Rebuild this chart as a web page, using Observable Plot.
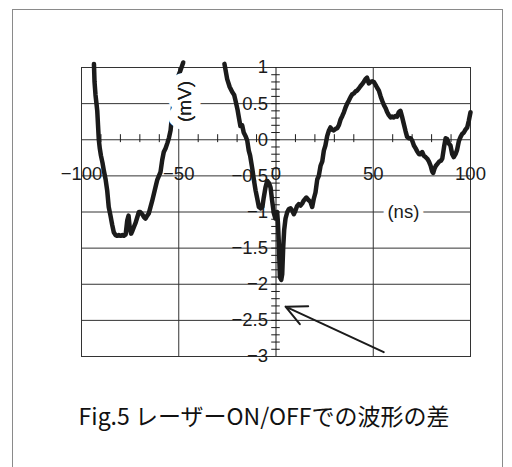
<!DOCTYPE html>
<html>
<head>
<meta charset="utf-8">
<script src="https://cdn.jsdelivr.net/npm/d3@7"></script>
<script src="https://cdn.jsdelivr.net/npm/@observablehq/plot@0.6"></script>
<style>
  body { margin: 0; background: #fff; }
  #wrap { position: relative; width: 512px; height: 467px; overflow: hidden; background: #fff; }
  #border { position: absolute; left: 12px; top: 9px; width: 491px; height: 480px; border: 1px solid #8a8a8a; box-sizing: border-box; }
  #chart { position: absolute; left: 0; top: 0; }
  #caption { position: absolute; left: 264px; top: 402px; transform: translateX(-50%); white-space: nowrap;
             font-family: "Noto Sans CJK JP", "Noto Sans", sans-serif; font-size: 23px; line-height: 26px; color: #111; }
</style>
</head>
<body>
<div id="wrap">
  <div id="border"></div>
  <div id="chart"></div>
  <div id="caption">Fig.5 レーザーON/OFFでの波形の差</div>
</div>
<script>
// ---- axis ticks & labels ----
const xTicks = [-100, -50, 0, 50, 100];
const xTickLabels = ["−100", "−50", "0", "50", "100"];
const yTicks = [1, 0.5, 0, -0.5, -1, -1.5, -2, -2.5, -3];
const yTickLabels = ["1", "0.5", "0", "−0.5", "−1", "−1.5", "−2", "−2.5", "−3"];
const yGrid = [0.5, 0, -0.5, -1, -1.5, -2, -2.5];
const xGrid = [-50, 50];
const xMinor = [-90, -80, -70, -60, -40, -30, -20, -10, 10, 20, 30, 40, 60, 70, 80, 90];
const yMinor = [0.9,0.8,0.7,0.6,0.5,0.4,0.3,0.2,0.1,0,-0.1,-0.2,-0.3,-0.4,-0.5,-0.6,-0.7,-0.8,-0.9,-1,
  -1.1,-1.2,-1.3,-1.4,-1.5,-1.6,-1.7,-1.8,-1.9,-2,-2.1,-2.2,-2.3,-2.4,-2.5,-2.6,-2.7,-2.8,-2.9];
const xAxisLabel = ["(ns)"];
const yAxisLabel = ["(mV)"];

// ---- waveform difference (mV vs ns), two visible pieces ----
const segA_x = [-93.6,-93.3,-92.8,-92.3,-91.9,-91.5,-91.1,-90.6,-90.0,-89.2,-88.5,-87.6,-86.8,-86.0,-85.1,-84.2,-83.4,
  -82.5,-81.6,-80.8,-79.9,-79.0,-78.2,-77.3,-76.5,-75.8,-75.2,-74.5,-73.8,-73.1,-72.2,-71.4,-70.5,-69.8,-68.8,
  -67.9,-67.1,-66.2,-65.4,-64.5,-63.7,-62.8,-62.0,-61.1,-60.2,-59.4,-58.5,-57.7,-56.8,-55.9,-55.0,-54.2,-53.4,
  -52.5,-51.7,-50.8,-50.0,-49.1,-47.7];
const segA_y = [1.05,0.8,0.62,0.5,0.4,0.2,0.0,-0.12,-0.22,-0.32,-0.43,-0.55,-0.7,-0.93,-1.05,-1.18,-1.28,
  -1.32,-1.33,-1.32,-1.33,-1.32,-1.33,-1.31,-1.12,-1.05,-1.22,-1.30,-1.26,-1.21,-1.15,-1.08,-1.0,-1.0,-1.03,
  -1.07,-1.09,-1.05,-1.02,-0.93,-0.85,-0.75,-0.66,-0.56,-0.5,-0.45,-0.28,-0.17,-0.12,-0.05,0.03,0.13,0.35,
  0.55,0.7,0.82,0.9,0.96,1.07];
const segB_x = [-26.5,-25.1,-23.8,-22.5,-21.5,-20.8,-19.8,-19.1,-18.3,-17.4,-16.6,-15.5,-14.8,-14.0,-13.3,-12.2,
  -11.4,-10.5,-9.6,-8.8,-7.8,-7.0,-6.3,-5.4,-4.5,-3.6,-2.8,-2.0,-1.1,-0.3,0.6,1.0,1.4,2.0,2.7,3.2,3.7,4.2,4.9,
  5.8,6.6,7.5,8.3,9.2,10.0,10.8,11.7,12.6,13.5,14.3,15.6,16.9,17.7,18.6,19.4,20.3,21.2,22.0,22.9,23.8,24.6,
  25.4,26.3,27.1,28.0,28.8,29.7,30.6,31.5,32.3,33.2,34.1,34.9,35.8,36.6,37.4,38.3,39.2,40.0,40.9,41.7,42.6,
  43.4,44.3,45.1,46.0,46.8,47.7,48.6,49.5,50.3,51.2,52.0,52.9,53.8,54.6,55.5,56.3,57.2,58.0,58.9,59.7,60.6,
  61.4,62.3,63.1,64.0,64.8,65.7,66.6,67.4,68.3,69.2,70.0,70.9,71.8,72.6,73.5,74.3,75.2,76.0,76.9,77.7,78.6,
  79.5,80.3,80.8,81.5,82.2,83.1,84.0,84.8,85.5,86.4,87.2,88.0,88.8,89.7,90.6,91.4,92.3,93.1,94.0,94.9,95.7,
  96.6,97.4,98.3,99.1,100];
const segB_y = [1.05,0.84,0.73,0.66,0.62,0.54,0.42,0.31,0.19,0.2,0.1,0.04,-0.01,-0.15,-0.22,-0.4,
  -0.55,-0.7,-0.82,-0.93,-0.95,-0.93,-0.8,-0.66,-0.57,-0.6,-0.66,-0.84,-1.02,-1.09,-1.0,-1.15,-1.39,-1.9,-1.94,-1.86,-1.49,-1.25,-1.09,
  -1.0,-0.96,-0.95,-0.98,-1.03,-0.98,-0.92,-0.89,-0.91,-0.88,-0.84,-0.8,-0.84,-0.86,-0.93,-0.82,-0.73,-0.55,-0.5,-0.36,-0.3,-0.15,
  -0.08,0.05,0.12,0.17,0.14,0.13,0.15,0.16,0.2,0.28,0.33,0.38,0.45,0.5,0.54,0.59,0.63,0.64,0.67,0.68,0.71,
  0.74,0.77,0.8,0.84,0.86,0.78,0.8,0.81,0.8,0.76,0.72,0.68,0.6,0.54,0.48,0.44,0.38,0.34,0.31,0.32,0.31,
  0.33,0.32,0.38,0.4,0.32,0.22,0.12,0.04,0.02,0.02,-0.01,-0.08,-0.12,-0.16,-0.2,-0.2,-0.17,-0.22,-0.24,-0.26,-0.3,
  -0.36,-0.44,-0.46,-0.4,-0.36,-0.33,-0.3,-0.29,-0.26,-0.1,0.02,0.01,-0.05,-0.08,-0.2,-0.24,-0.2,-0.14,-0.02,0.04,0.08,
  0.1,0.14,0.17,0.26,0.38];

// ---- annotation arrow (data coords) ----
const arrowFrom = {x: 55.4, y: -2.94};
const arrowTo = {x: 4.9, y: -2.31};

const wave = [
  ...segA_x.map((x, i) => ({seg: "A", x, y: segA_y[i]})),
  ...segB_x.map((x, i) => ({seg: "B", x, y: segB_y[i]}))
];

const ink = "#1b1b1b";
const chart = Plot.plot({
  width: 512,
  height: 380,
  marginLeft: 81,
  marginRight: 42,
  marginTop: 67,
  marginBottom: 24,
  x: {domain: [-100, 100], axis: null},
  y: {domain: [-3, 1], axis: null},
  style: {fontFamily: "'Liberation Sans', Arial, sans-serif", background: "transparent", overflow: "visible"},
  marks: [
    Plot.ruleY(yGrid, {stroke: "#333", strokeWidth: 1}),
    Plot.ruleX(xGrid, {stroke: "#333", strokeWidth: 1}),
    Plot.frame({stroke: "#333", strokeWidth: 1}),
    Plot.ruleX([0], {stroke: ink, strokeWidth: 1}),
    Plot.ruleY(yMinor, {x1: -2.2, x2: 2.2, stroke: ink, strokeWidth: 1}),
    Plot.ruleX(xMinor, {y1: -0.04, y2: 0.07, stroke: ink, strokeWidth: 1}),
    Plot.text(yTicks, {x: 0, y: d => d, text: (d, i) => yTickLabels[i], textAnchor: "end", dx: -8, fontSize: 18.5, fill: ink}),
    Plot.text(xTicks, {x: d => d, y: 0, text: (d, i) => xTickLabels[i], dy: 34, fontSize: 18.5, fill: ink}),
    Plot.line(wave, {x: "x", y: "y", z: "seg", stroke: ink, strokeWidth: 4.5, strokeLinejoin: "round", strokeLinecap: "round"}),
    Plot.text(yAxisLabel, {x: -47, y: 0.53, text: d => d, rotate: -90, fontSize: 19, fill: ink,
      stroke: "white", strokeWidth: 19, strokeLinejoin: "round", paintOrder: "stroke"}),
    Plot.text(yAxisLabel, {x: -47, y: 0.53, text: d => d, rotate: -90, fontSize: 19, fill: ink}),
    Plot.text(xAxisLabel, {x: 65.5, y: -1, text: d => d, fontSize: 18.5, fill: ink,
      stroke: "white", strokeWidth: 10, paintOrder: "stroke"}),
    Plot.arrow([arrowFrom], {x1: "x", y1: "y", x2: () => arrowTo.x, y2: () => arrowTo.y,
      stroke: ink, strokeWidth: 2, headLength: 17, headAngle: 52})
  ]
});
document.getElementById("chart").appendChild(chart);
</script>
</body>
</html>
